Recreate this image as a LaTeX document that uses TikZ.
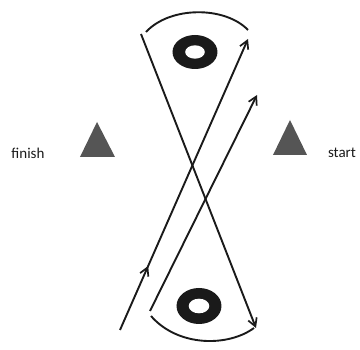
\documentclass[tikz,border=0pt]{standalone}
\usepackage{fontspec}
\setmainfont{Carlito}
\usetikzlibrary{arrows.meta,decorations.markings}
\definecolor{ink}{HTML}{1A1A1A}
\definecolor{cone}{HTML}{555555}
\tikzset{
  path/.style={draw=ink, line width=1.9pt},
  tip/.tip={Straight Barb[length=8pt,width=9pt,line width=1.7pt]},
  arr/.style={path, -tip},
  midarr/.style={postaction={decorate}, decoration={markings,
     mark=at position #1 with {\arrow{tip}}}},
  lbl/.style={font=\fontsize{15}{17}\selectfont, text=ink, inner sep=0pt},
  conefill/.style={fill=cone},
}
\begin{document}
\begin{tikzpicture}[x=1pt,y=-1pt]
\useasboundingbox (0,0) rectangle (360,350);
% donuts
\fill[ink] (195,52) ellipse [x radius=22.5, y radius=17];
\fill[white] (195,52) ellipse [x radius=9.8, y radius=6.7];
\fill[ink] (199,306) ellipse [x radius=22.5, y radius=18];
\fill[white] (199,306) ellipse [x radius=10.3, y radius=7.3];
% cones
\fill[conefill] (97,122) -- (115,157) -- (80,157) -- cycle;
\fill[conefill] (290,120) -- (307,155) -- (273,155) -- cycle;
\node[lbl] (finish) at (28,153) {finish};
\node[lbl] (start) at (342,153) {start};
% coordinates
\coordinate (tl) at (141,34);
\coordinate (br) at (256,328);
\coordinate (s0) at (120,330);
\coordinate (s1) at (248,39);
\coordinate (bl) at (150,311);
\coordinate (mr) at (257,95);
\coordinate (al) at (146,32);
\coordinate (ar) at (248,30);
\coordinate (bal) at (151,316);
\coordinate (bar) at (254,328);
% lines
\draw[arr] (tl) -- (br);
\draw[arr, midarr=0.22] (s0) -- (s1);
\draw[arr] (bl) -- (mr);
% arcs
\draw[path] (al) .. controls (170,6) and (225,6) .. (ar);
\draw[path] (bal) .. controls (178,347) and (228,347) .. (bar);
\end{tikzpicture}
\end{document}
